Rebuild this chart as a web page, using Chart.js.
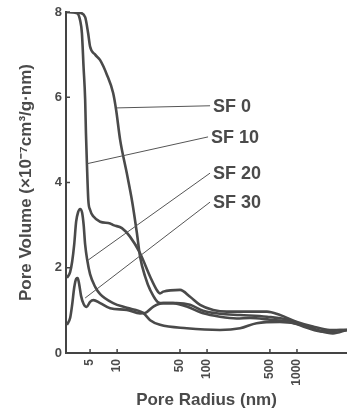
<!DOCTYPE html>
<html>
<head>
<meta charset="utf-8">
<style>
body{margin:0;background:#fff;}
#box{width:347px;height:411px;}
</style>
</head>
<body>
<div id="box"><canvas id="myChart" width="347" height="411"></canvas></div>
<script src="https://cdn.jsdelivr.net/npm/chart.js@4/dist/chart.umd.min.js"></script>
<script>
// pore radius (nm) / pore volume (x10^-7 cm3/g.nm)
var sf0Radius = [2.76, 3.88, 4.41, 4.76, 5.0, 5.7, 6.47, 7.69, 9.03, 9.75, 10.8, 12.8, 14.7, 16.6, 18.0, 20.5, 23.3, 30.0, 41.9, 59.4, 90.9, 139, 213, 300, 501, 836, 1292, 1944, 3005, 3593];
var sf0Volume = [8.0, 7.98, 7.88, 7.5, 7.19, 7.0, 6.87, 6.53, 6.1, 5.7, 5.0, 4.22, 3.55, 2.81, 2.26, 1.79, 1.48, 1.17, 1.17, 1.09, 0.93, 0.85, 0.81, 0.82, 0.78, 0.73, 0.59, 0.5, 0.54, 0.54];

var sf10Radius = [2.76, 3.59, 3.88, 4.06, 4.23, 4.41, 4.5, 4.61, 4.78, 5.0, 5.46, 6.47, 8.36, 9.1, 11.3, 13.9, 18.0, 23.3, 27.6, 30.0, 32.6, 50.1, 64.7, 83.6, 117, 166, 300, 464, 647, 1000, 1506, 2326, 3593];
var sf10Volume = [8.0, 7.97, 7.8, 7.5, 6.72, 5.94, 5.16, 4.46, 3.59, 3.36, 3.2, 3.08, 3.04, 3.0, 2.93, 2.73, 2.34, 1.79, 1.48, 1.4, 1.44, 1.48, 1.32, 1.13, 1.01, 0.97, 0.97, 0.97, 0.89, 0.73, 0.62, 0.54, 0.54];

var sf20Radius = [2.76, 3.0, 3.16, 3.33, 3.5, 3.69, 3.88, 4.08, 4.24, 4.41, 4.65, 5.0, 5.7, 6.47, 9.03, 12.8, 19.5, 23.3, 30.0, 59.4, 139, 233, 356, 647, 1166, 1668, 2512, 3593];
var sf20Volume = [1.76, 1.9, 2.14, 2.54, 3.08, 3.31, 3.38, 3.29, 3.01, 2.54, 2.18, 1.85, 1.55, 1.38, 1.17, 1.06, 0.94, 0.77, 0.66, 0.58, 0.54, 0.58, 0.7, 0.73, 0.66, 0.54, 0.46, 0.54];

var sf30Radius = [2.76, 3.0, 3.16, 3.33, 3.5, 3.64, 3.78, 3.97, 4.24, 4.58, 5.0, 5.46, 6.47, 8.36, 12.8, 18.0, 20.5, 25.3, 32.6, 46.0, 64.7, 90.3, 139, 233, 464, 836, 1292, 1944, 3593];
var sf30Volume = [0.66, 0.82, 1.13, 1.53, 1.74, 1.76, 1.62, 1.34, 1.15, 1.08, 1.2, 1.24, 1.17, 1.05, 1.01, 0.93, 0.94, 1.09, 1.17, 1.17, 1.13, 0.99, 0.92, 0.89, 0.85, 0.77, 0.61, 0.52, 0.54];

var radiusTicks = [5, 10, 50, 100, 500, 1000];
var volumeTicks = [0, 2, 4, 6, 8];

// curve labels with leader lines (from a point on the curve to the text)
var seriesNames = ["SF 0", "SF 10", "SF 20", "SF 30"];
var leaderFrom = [[9.92, 5.75], [4.61, 4.44], [4.76, 2.18], [4.41, 1.29]];
var leaderTo = [[108, 5.8], [102.6, 5.07], [108, 4.22], [108, 3.54]];

var ink = "#4a4a4a";

function pts(xs, ys){
	var out = [];
	for(var i = 0; i < xs.length; i++) out.push({x: xs[i], y: ys[i]});
	return out;
}

function curve(xs, ys){
	return {
		data: pts(xs, ys),
		borderColor: ink,
		borderWidth: 2.6,
		pointRadius: 0,
		fill: false,
		cubicInterpolationMode: "monotone"
	};
}

var marks = {
	id: "marks",
	afterDatasetsDraw: function(chart){
		var ctx = chart.ctx, sx = chart.scales.x, sy = chart.scales.y, a = chart.chartArea;
		ctx.save();
		ctx.strokeStyle = "#444";
		ctx.lineWidth = 1.5;
		ctx.beginPath();
		for(var v of volumeTicks){
			var py = sy.getPixelForValue(v);
			ctx.moveTo(a.left, py); ctx.lineTo(a.left + 4, py);
		}
		for(var r of radiusTicks){
			var px = sx.getPixelForValue(r);
			ctx.moveTo(px, a.bottom); ctx.lineTo(px, a.bottom - 4);
		}
		ctx.stroke();

		ctx.strokeStyle = "#555";
		ctx.lineWidth = 1;
		ctx.fillStyle = ink;
		ctx.font = "bold 18px 'Liberation Sans', Arial, sans-serif";
		ctx.textAlign = "left";
		ctx.textBaseline = "middle";
		for(var i = 0; i < seriesNames.length; i++){
			var x0 = sx.getPixelForValue(leaderFrom[i][0]), y0 = sy.getPixelForValue(leaderFrom[i][1]);
			var x1 = sx.getPixelForValue(leaderTo[i][0]), y1 = sy.getPixelForValue(leaderTo[i][1]);
			ctx.beginPath();
			ctx.moveTo(x0, y0); ctx.lineTo(x1, y1);
			ctx.stroke();
			ctx.fillText(seriesNames[i], x1 + 3, y1 + 1);
		}
		ctx.restore();
	}
};

var ctx = document.getElementById("myChart").getContext("2d");
var chart = new Chart(ctx, {
	type: "line",
	data: {
		datasets: [
			curve(sf0Radius, sf0Volume),
			curve(sf10Radius, sf10Volume),
			curve(sf20Radius, sf20Volume),
			curve(sf30Radius, sf30Volume)
		]
	},
	options: {
		responsive: false,
		animation: false,
		layout: {padding: {top: 12, right: 0, left: 0, bottom: 0}},
		plugins: {legend: {display: false}, tooltip: {enabled: false}},
		scales: {
			x: {
				type: "logarithmic",
				min: 2.7,
				max: 3600,
				afterBuildTicks: function(scale){
					scale.ticks = radiusTicks.map(function(v){ return {value: v}; });
				},
				afterFit: function(scale){ scale.height = 58; },
				grid: {drawOnChartArea: false, drawTicks: false},
				border: {display: true, color: "#444", width: 2},
				ticks: {
					autoSkip: false,
					minRotation: 90,
					maxRotation: 90,
					padding: 6,
					color: ink,
					font: {family: "'Liberation Sans', Arial, sans-serif", size: 12, weight: "bold"},
					callback: function(v){ return String(v); }
				},
				title: {
					display: true,
					text: "Pore Radius (nm)",
					color: ink,
					padding: {top: 0, bottom: 0},
					font: {family: "'Liberation Sans', Arial, sans-serif", size: 17, weight: "bold"}
				}
			},
			y: {
				min: 0,
				max: 8,
				afterBuildTicks: function(scale){
					scale.ticks = volumeTicks.map(function(v){ return {value: v}; });
				},
				afterFit: function(scale){ scale.width = 66; },
				grid: {drawOnChartArea: false, drawTicks: false},
				border: {display: true, color: "#444", width: 2},
				ticks: {
					padding: 4,
					color: ink,
					font: {family: "'Liberation Sans', Arial, sans-serif", size: 13, weight: "bold"}
				},
				title: {
					display: true,
					text: "Pore Volume (×10⁻⁷cm³/g·nm)",
					color: ink,
					padding: {top: 16, bottom: 0},
					font: {family: "'Liberation Sans', Arial, sans-serif", size: 17, weight: "bold"}
				}
			}
		}
	},
	plugins: [marks]
});
</script>
</body>
</html>
